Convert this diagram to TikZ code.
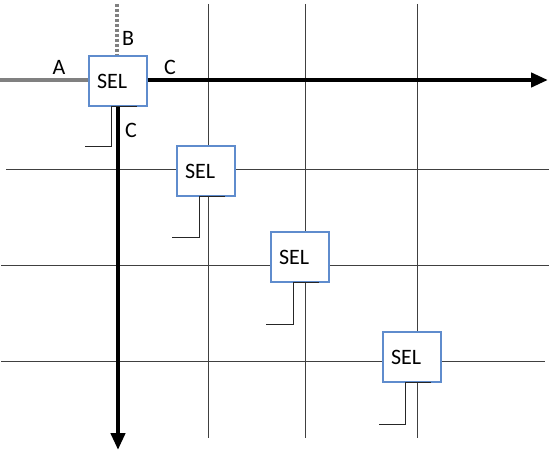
\documentclass[tikz,border=0pt]{standalone}
\usepackage{fontspec}
\setmainfont{Carlito}
\usetikzlibrary{arrows.meta}
\definecolor{selblue}{RGB}{95,140,205}
\tikzset{
  sel/.style={draw=selblue,fill=white,line width=1.2pt,text width=42pt,align=left,inner xsep=8pt,minimum height=50pt,font=\fontsize{22}{24}\selectfont},
  grd/.style={black!75,line width=1pt},
  bus/.style={line width=4.5pt,-{Triangle[length=17pt,width=14pt]}},
  ina/.style={line width=4.3pt,black!50},
  inb/.style={line width=4pt,black!50,dash pattern=on 3pt off 2pt},
  brk/.style={black!85,line width=1pt},
  lbl/.style={font=\fontsize{22}{24}\selectfont}
}

\begin{document}
\begin{tikzpicture}[x=1pt,y=-1pt]
\useasboundingbox (0,0) rectangle (550,452);
\foreach \x in {208,305,417} \draw[grd] (\x,4) -- (\x,438);
\foreach \y/\l/\r in {170/6/549,265/1/549,361/1/545} \draw[grd] (\l,\y) -- (\r,\y);
\node[sel] (s1) at (118,81) {SEL};
\node[sel] (s2) at (206,171) {SEL};
\node[sel] (s3) at (300,257) {SEL};
\node[sel] (s4) at (412,357) {SEL};
\coordinate (a) at (0,80); \coordinate (b) at (117,4);
\coordinate (cr) at (548,80); \coordinate (cd) at (118,450);
\draw[ina] (a) -- (a -| s1.west);
\draw[inb] (b) -- (b |- s1.north);
\draw[bus] (cr -| s1.east) -- (cr);
\draw[bus] (s1.south) -- (cd);
\foreach \i/\kx/\ky in {1/85/147,2/172/238,3/266/324,4/379/424}{
  \coordinate (k\i) at (\kx,\ky);
  \draw[brk] ([xshift=19pt]s\i.south) -- ([xshift=-7pt]s\i.south) |- (k\i);
}
\node[lbl] (la) at (59,67) {A};
\node[lbl] (lb) at (128,38) {B};
\node[lbl] (lc) at (170,67) {C};
\node[lbl] (ld) at (131,130) {C};
\end{tikzpicture}
\end{document}
